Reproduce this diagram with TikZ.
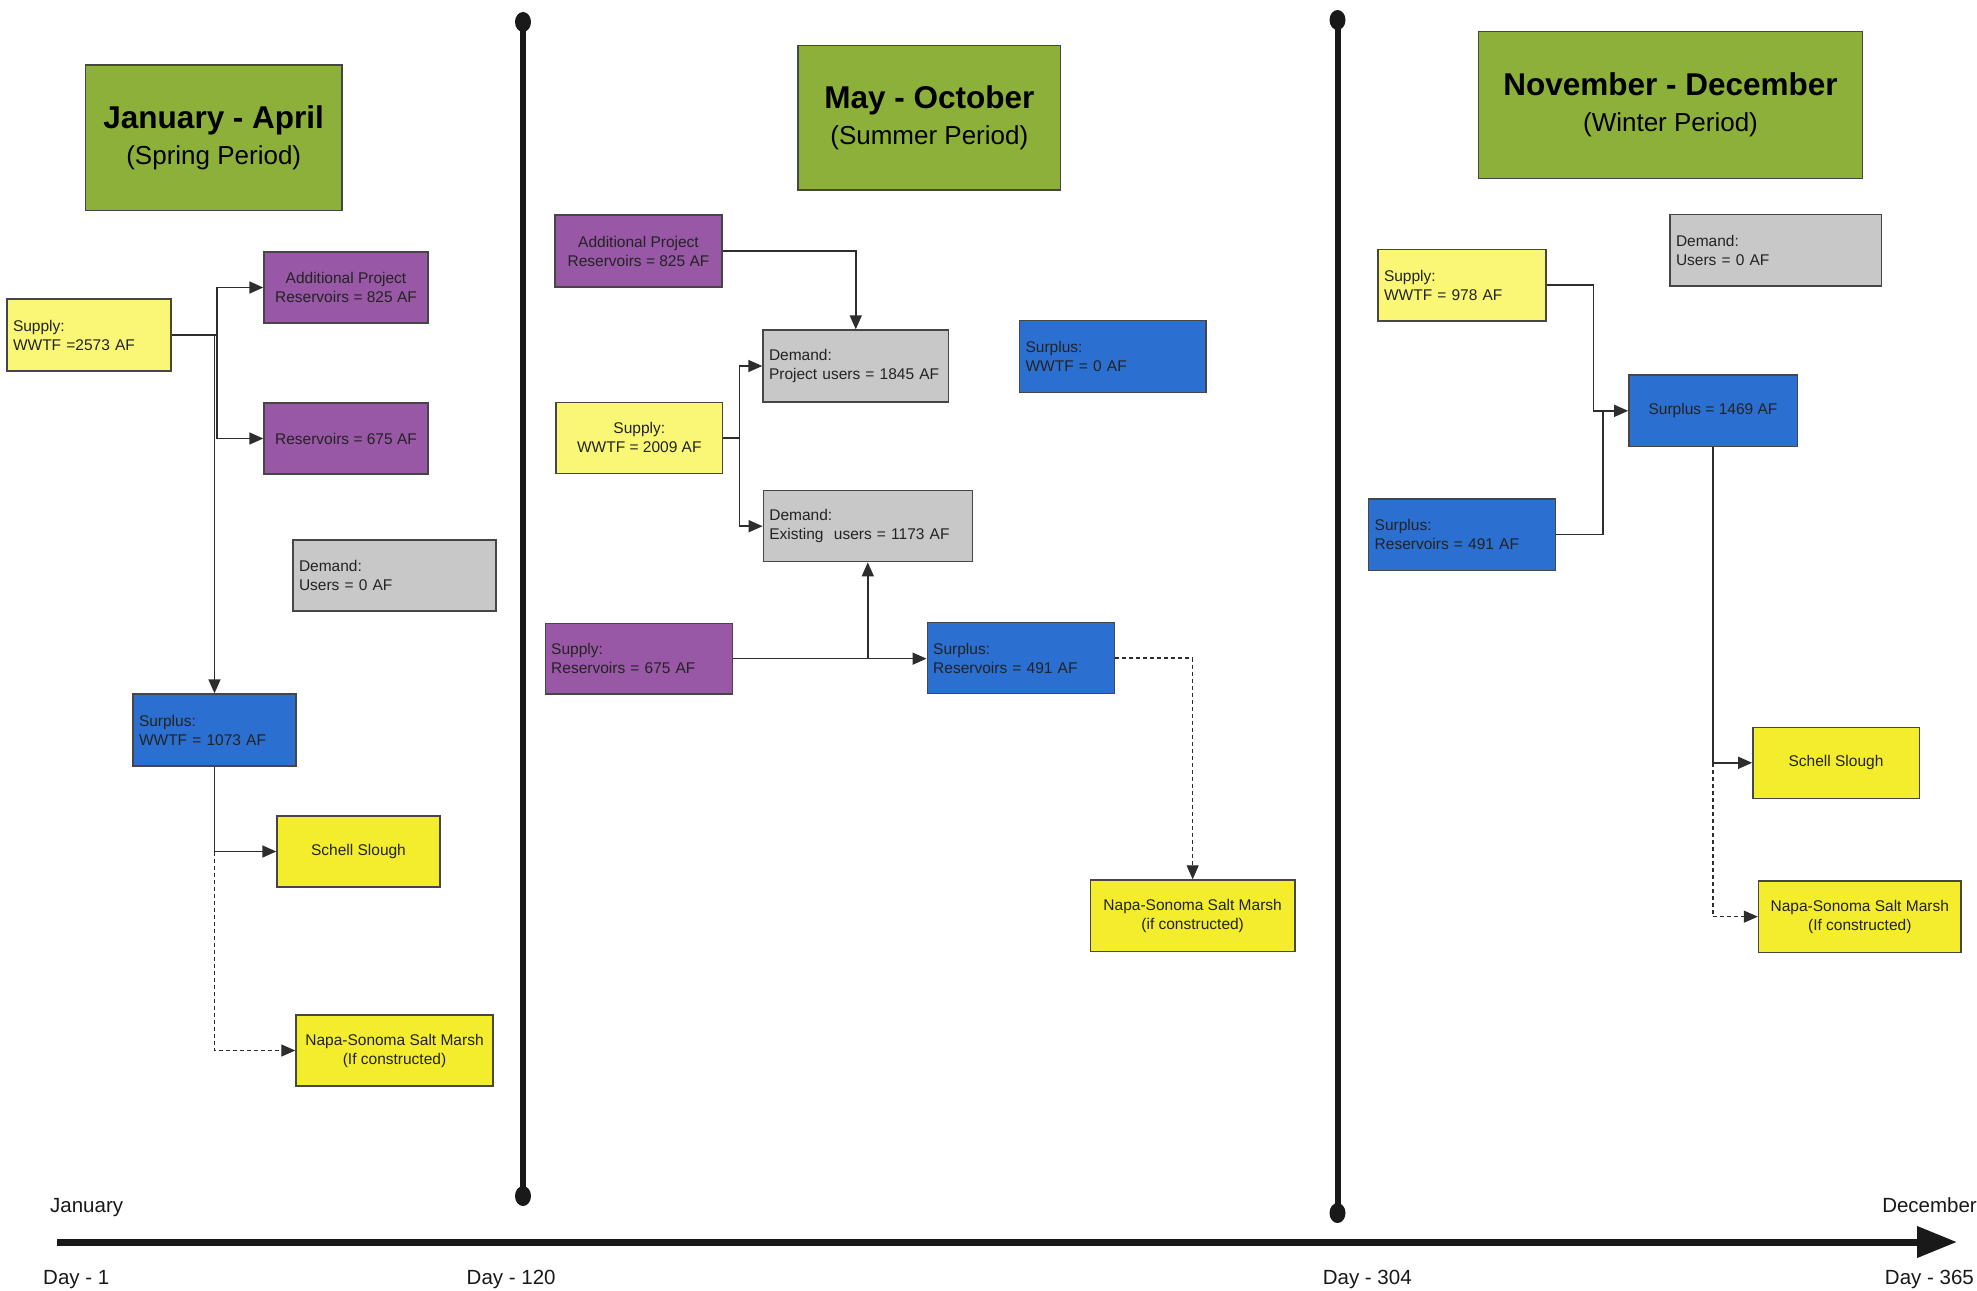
\documentclass[tikz,border=0pt]{standalone}
\usepackage{fontspec}
\setmainfont{Liberation Sans}
\usetikzlibrary{arrows.meta}
\definecolor{hdrgreen}{RGB}{141,176,58}
\definecolor{ylight}{RGB}{250,246,118}
\definecolor{ybright}{RGB}{244,237,45}
\definecolor{purp}{RGB}{152,88,166}
\definecolor{bluebox}{RGB}{43,111,208}
\definecolor{greybox}{RGB}{200,200,200}
\definecolor{boxline}{RGB}{70,70,70}
\definecolor{textcol}{RGB}{35,35,35}
\definecolor{linecol}{RGB}{45,45,45}
\begin{document}
\begin{tikzpicture}[x=1pt,y=-1pt,
  box/.style={draw=boxline, line width=1.4pt, inner sep=0pt, text=textcol,
              font=\fontsize{15.5}{19}\selectfont, align=center},
  lbox/.style={box, align=left},
  hbox/.style={draw=boxline, line width=1.6pt, fill=hdrgreen, inner sep=0pt, text=black,
               font=\fontsize{26}{36}\selectfont, align=center},
  conn/.style={draw=linecol, line width=1.6pt, -{Triangle[length=14pt,width=12pt]}},
  plain/.style={draw=linecol, line width=1.6pt},
  dconn/.style={draw=linecol, line width=1.2pt, dash pattern=on 4pt off 3pt,
                -{Triangle[length=14pt,width=12pt]}},
  bar/.style={draw=black!90, line width=6pt},
  lbl/.style={inner sep=0pt, font=\fontsize{20.5}{24}\selectfont, text=black!90}
]
\fill[white] (0,0) rectangle (1977,1290);
\useasboundingbox (0,0) rectangle (1977,1290);

% ---------- timeline ----------
\coordinate (b1t) at (523,22);
\coordinate (b1b) at (523,1196);
\coordinate (b2t) at (1337.5,20);
\coordinate (b2b) at (1337.5,1213);
\draw[bar] (b1t) -- (b1b);
\draw[bar] (b2t) -- (b2b);
\fill[black!90] (b1t) ellipse [x radius=8, y radius=10];
\fill[black!90] (b1b) ellipse [x radius=8, y radius=10];
\fill[black!90] (b2t) ellipse [x radius=8, y radius=10];
\fill[black!90] (b2b) ellipse [x radius=8, y radius=10];
\coordinate (ax0) at (57,1242);
\coordinate (ax1) at (1957,1242);
\draw[black!90, line width=7pt, -{Triangle[length=40pt,width=30pt]}] (ax0) -- (ax1);

\node[lbl, anchor=base west] (jan) at (50,1212) {January};
\node[lbl, anchor=base east] (dec) at (1977,1212) {December};
\node[lbl, anchor=base west] (d1)  at (43,1284) {Day - 1};
\node[lbl, anchor=base west] (d120) at (466.5,1284) {Day - 120};
\node[lbl, anchor=base west] (d304) at (1322.6,1284) {Day - 304};
\node[lbl, anchor=base east] (d365) at (1974,1284) {Day - 365};

% ---------- headers ----------
\node[hbox, minimum width=256.5, minimum height=145.5] (h1) at (213.75,137.75)
  {{\fontsize{31.5}{36}\selectfont\bfseries January - April}\\(Spring Period)};
\node[hbox, minimum width=262.6, minimum height=144.3] (h2) at (929.3,117.85)
  {{\fontsize{31.5}{36}\selectfont\bfseries May - October}\\(Summer Period)};
\node[hbox, minimum width=384.2, minimum height=146.6] (h3) at (1670.5,105)
  {{\fontsize{31.5}{36}\selectfont\bfseries November - December}\\(Winter Period)};

% ---------- section 1 ----------
\node[lbox, fill=ylight, minimum width=164, minimum height=72, text width=152] (s1) at (89,335)
  {Supply:\\WWTF =2573 AF};
\node[box, fill=purp, minimum width=164, minimum height=71] (ap1) at (346,287.5)
  {Additional Project\\Reservoirs = 825 AF};
\node[box, fill=purp, minimum width=164, minimum height=71] (r1) at (346,438.5)
  {Reservoirs = 675 AF};
\node[lbox, fill=greybox, minimum width=203, minimum height=71, text width=191] (dm1) at (394.5,575.5)
  {Demand:\\Users = 0 AF};
\node[lbox, fill=bluebox, minimum width=163, minimum height=72, text width=151] (su1) at (214.5,730)
  {Surplus:\\WWTF = 1073 AF};
\node[box, fill=ybright, minimum width=163, minimum height=71] (sc1) at (358.5,851.5)
  {Schell Slough};
\node[box, fill=ybright, minimum width=197, minimum height=71] (n1) at (394.5,1050.5)
  {Napa-Sonoma Salt Marsh\\(If constructed)};

\coordinate (j1) at (217,335);
\draw[plain] (s1.east) -- (j1);
\draw[conn] (j1) |- (ap1.west);
\draw[conn] (j1) |- (r1.west);
\draw[conn] (s1.east -| su1.north) -- (su1.north);
\draw[conn] (su1.south) |- (sc1.west);
\draw[dconn] (su1.south |- sc1.west) |- (n1.west);

% ---------- section 2 ----------
\node[box, fill=purp, minimum width=167, minimum height=72] (ap2) at (638.5,251)
  {Additional Project\\Reservoirs = 825 AF};
\node[lbox, fill=greybox, minimum width=185.5, minimum height=72, text width=173.5] (d2a) at (855.75,366)
  {Demand:\\Project users = 1845 AF};
\node[lbox, fill=bluebox, minimum width=186.4, minimum height=71.6, text width=174.4] (sw2) at (1112.8,356.5)
  {Surplus:\\WWTF = 0 AF};
\node[box, fill=ylight, minimum width=166.6, minimum height=71] (s2) at (639.3,437.8)
  {Supply:\\WWTF = 2009 AF};
\node[lbox, fill=greybox, minimum width=209, minimum height=71, text width=197] (d2b) at (867.8,526.2)
  {Demand:\\Existing\ \ users = 1173 AF};
\node[lbox, fill=purp, minimum width=187.3, minimum height=70.7, text width=175.3] (sr2) at (638.85,658.65)
  {Supply:\\Reservoirs = 675 AF};
\node[lbox, fill=bluebox, minimum width=187.4, minimum height=70.6, text width=175.4] (sur2) at (1020.9,658)
  {Surplus:\\Reservoirs = 491 AF};
\node[box, fill=ybright, minimum width=204.7, minimum height=71.7] (n2) at (1192.65,915.85)
  {Napa-Sonoma Salt Marsh\\(if constructed)};

\draw[conn] (ap2.east) -| (d2a.north);
\coordinate (j2) at (739.5,437.8);
\draw[plain] (s2.east) -- (j2);
\draw[conn] (j2) |- (d2a.west);
\draw[conn] (j2) |- (d2b.west);
\draw[conn] (sr2.east) -- (sr2.east -| sur2.west);
\draw[conn] (sr2.east -| d2b.south) -- (d2b.south);
\draw[dconn] (sur2.east) -| (n2.north);

% ---------- section 3 ----------
\node[lbox, fill=greybox, minimum width=211.4, minimum height=71.3, text width=199.4] (d3) at (1775.7,250.35)
  {Demand:\\Users = 0 AF};
\node[lbox, fill=ylight, minimum width=167.8, minimum height=71.7, text width=155.8] (s3) at (1461.9,285.15)
  {Supply:\\WWTF = 978 AF};
\node[box, fill=bluebox, minimum width=168.4, minimum height=71.7] (su3) at (1713,410.85)
  {Surplus = 1469 AF};
\node[lbox, fill=bluebox, minimum width=186.5, minimum height=71.3, text width=174.5] (sr3) at (1461.95,534.65)
  {Surplus:\\Reservoirs = 491 AF};
\node[box, fill=ybright, minimum width=166.4, minimum height=71] (sc3) at (1836,762.8)
  {Schell Slough};
\node[box, fill=ybright, minimum width=202.5, minimum height=71.3] (n3) at (1859.75,916.65)
  {Napa-Sonoma Salt Marsh\\(If constructed)};

\coordinate (j3) at (1593.4,410.85);
\coordinate (j3b) at (1602.8,410.85);
\draw[conn] (s3.east) -| (j3) -- (su3.west);
\draw[plain] (sr3.east) -| (j3b);
\draw[conn] (su3.south) |- (sc3.west);
\draw[dconn] (su3.south |- sc3.west) |- (n3.west);
\end{tikzpicture}
\end{document}
